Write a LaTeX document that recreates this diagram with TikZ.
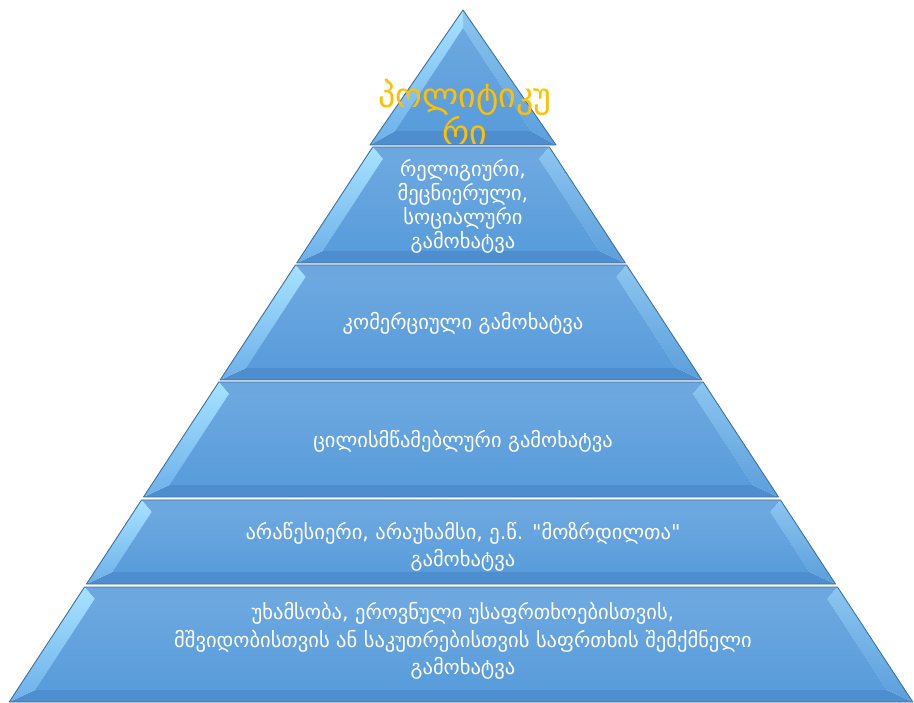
\documentclass[tikz,border=0pt]{standalone}
\usepackage{fontspec}
\setmainfont{DejaVu Sans}
\newfontfamily\geofont{DejaVu Sans}
\definecolor{facetop}{HTML}{6DA8E0}
\definecolor{facebot}{HTML}{589CDB}
\definecolor{edgecol}{HTML}{41709C}
\definecolor{lbevtop}{HTML}{A6E2FF}
\definecolor{lbevbot}{HTML}{6DB0EA}
\definecolor{rbevtop}{HTML}{8CC6F0}
\definecolor{rbevbot}{HTML}{5B9EDC}
\definecolor{tbev}{HTML}{6CA8DF}
\definecolor{bbev}{HTML}{4F8ECE}
\definecolor{goldtxt}{HTML}{FFC000}
\newcommand\pyrlayer[4]{%
  \pgfmathsetmacro\pyYa{#1}\pgfmathsetmacro\pyYb{#2}%
  \pgfmathsetmacro\pyHa{#3}\pgfmathsetmacro\pyHb{#4}%
  \pgfmathsetmacro\pyS{(\pyHb-\pyHa)/(\pyYb-\pyYa)}%
  \pgfmathsetmacro\pyYi{\pyYa+12}\pgfmathsetmacro\pyYj{\pyYb-12}%
  \pgfmathsetmacro\pyHi{\pyHa+\pyS*12-18}\pgfmathsetmacro\pyHj{\pyHb-\pyS*12-18}%
  \coordinate (OTL) at (461-\pyHa,\pyYa);
  \coordinate (OTR) at (461+\pyHa,\pyYa);
  \coordinate (OBR) at (461+\pyHb,\pyYb);
  \coordinate (OBL) at (461-\pyHb,\pyYb);
  \coordinate (ITL) at (461-\pyHi,\pyYi);
  \coordinate (ITR) at (461+\pyHi,\pyYi);
  \coordinate (IBR) at (461+\pyHj,\pyYj);
  \coordinate (IBL) at (461-\pyHj,\pyYj);
  \fill[tbev] (OTL) -- (OTR) -- (ITR) -- (ITL) -- cycle;
  \fill[bbev] (OBL) -- (OBR) -- (IBR) -- (IBL) -- cycle;
  \shade[top color=rbevtop,bottom color=rbevbot] (OTR) -- (OBR) -- (IBR) -- (ITR) -- cycle;
  \shade[top color=lbevtop,bottom color=lbevbot] (OTL) -- (ITL) -- (IBL) -- (OBL) -- cycle;
  \shade[top color=facetop,bottom color=facebot] (ITL) -- (ITR) -- (IBR) -- (IBL) -- cycle;
  \draw[edgecol,line width=0.9pt,line join=round] (OTL) -- (OTR) -- (OBR) -- (OBL) -- cycle;
}
\tikzset{
  layertext/.style={text=white,font=\geofont\fontsize{20.5}{27.5}\selectfont,align=center,inner sep=0pt},
  toptext/.style={text=goldtxt,font=\geofont\fontsize{34}{36}\selectfont,align=center,inner sep=0pt}
}
\begin{document}
\begin{tikzpicture}[x=1pt,y=-1pt]
\useasboundingbox (0,0) rectangle (914,703);
% top triangle
\coordinate (TA) at (463,10);
\coordinate (TL) at (370,145);
\coordinate (TR) at (556,145);
\coordinate (IA) at (463,28);
\coordinate (IL) at (395,131);
\coordinate (IR) at (531,131);
\fill[bbev] (TL) -- (TR) -- (IR) -- (IL) -- cycle;
\shade[top color=rbevtop,bottom color=rbevbot] (TA) -- (TR) -- (IR) -- (IA) -- cycle;
\shade[top color=lbevtop,bottom color=lbevbot] (TA) -- (IA) -- (IL) -- (TL) -- cycle;
\shade[top color=facetop,bottom color=facebot] (IA) -- (IR) -- (IL) -- cycle;
\draw[edgecol,line width=0.9pt,line join=round] (TA) -- (TR) -- (TL) -- cycle;
% layers
\pyrlayer{147}{263}{88.3}{164.3}
\pyrlayer{265}{380}{165.6}{240.9}
\pyrlayer{382}{497}{242.2}{317.5}
\pyrlayer{500}{584}{319.5}{374.5}
\pyrlayer{587}{702}{376.5}{451.8}
% texts
\node[toptext] (t1) at (465,112) {პოლიტიკუ\\რი};
\node[layertext,font=\geofont\fontsize{20.5}{24}\selectfont] (t2) at (463,206) {რელიგიური,\\მეცნიერული,\\სოციალური\\გამოხატვა};
\node[layertext] (t3) at (463,323) {კომერციული გამოხატვა};
\node[layertext] (t4) at (463,441) {ცილისმწამებლური გამოხატვა};
\node[layertext] (t5) at (463,547) {არაწესიერი, არაუხამსი, ე.წ. "მოზრდილთა"\\გამოხატვა};
\node[layertext] (t6) at (463,641) {უხამსობა, ეროვნული უსაფრთხოებისთვის,\\მშვიდობისთვის ან საკუთრებისთვის საფრთხის შემქმნელი\\გამოხატვა};
\end{tikzpicture}
\end{document}
